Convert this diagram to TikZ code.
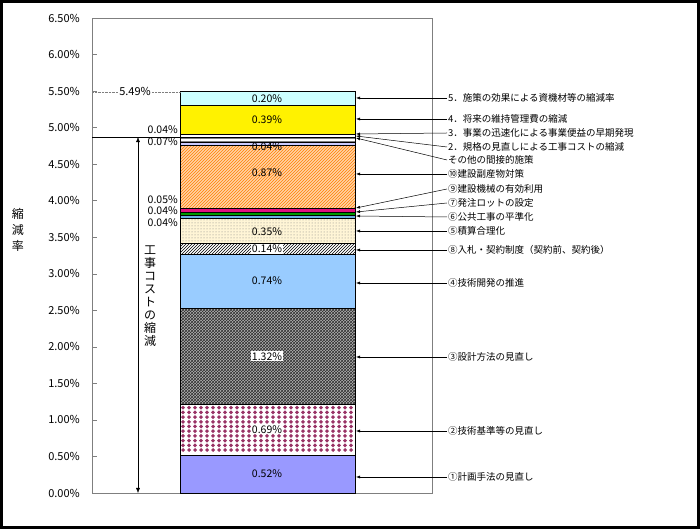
\documentclass[tikz,border=0pt]{standalone}
\usepackage{fontspec}
\setmainfont{Noto Sans CJK JP}
\usetikzlibrary{patterns,arrows.meta}
\definecolor{lav}{HTML}{9999FF}
\definecolor{plum}{HTML}{993366}
\definecolor{lblue}{HTML}{99CCFF}
\definecolor{lyel}{HTML}{FFF5D6}
\definecolor{lcyan}{HTML}{CCFFFF}
\definecolor{axisg}{HTML}{7F7F7F}
\newcommand\V[1]{36+73.08*#1}
\tikzset{seg/.style={draw=black,line width=0.6pt},
 pct/.style={font=\fontsize{10.5}{10.5}\selectfont,inner sep=1pt},
 lab/.style={font=\fontsize{9.5}{9.5}\selectfont,anchor=west,inner sep=1pt},
 ax/.style={font=\fontsize{11}{11}\selectfont,anchor=east,inner sep=1pt},
 arr/.style={-{Latex[length=4pt,width=3pt]},line width=0.5pt}}
\begin{document}
\begin{tikzpicture}[x=1pt,y=1pt]
\useasboundingbox (0,0) rectangle (700,529);
\draw[line width=3pt] (1.5,1.5) rectangle (698.5,527.5);
% plot frame
\draw[axisg,line width=0.8pt] (92,{\V{0}}) rectangle (432,{\V{6.5}});
\foreach \v/\t in {0/0.00,0.5/0.50,1/1.00,1.5/1.50,2/2.00,2.5/2.50,3/3.00,3.5/3.50,4/4.00,4.5/4.50,5/5.00,5.5/5.50,6/6.00,6.5/6.50}{
 \draw[axisg] (92,{\V{\v}}) -- (97,{\V{\v}});
 \node[ax] at (81,{\V{\v}}) {\t\%};}
% segments
\fill[lav] (180,{\V{0}}) rectangle (355,{\V{0.52}});
\draw[seg] (180,{\V{0}}) rectangle (355,{\V{0.52}});
\fill[white] (180,{\V{0.52}}) rectangle (355,{\V{1.21}});
\begin{scope}
\clip (180,{\V{0.52}}) rectangle (355,{\V{1.21}});
\foreach \i in {0,...,28}{\foreach \j in {0,...,10}{
 \fill[plum] ({183+6*\i},{\V{0.52}+3+4.7*\j}) -- ++(2,2) -- ++(-2,2) -- ++(-2,-2) -- cycle;}}
\end{scope}
\draw[seg] (180,{\V{0.52}}) rectangle (355,{\V{1.21}});
\fill[gray!60] (180,{\V{1.21}}) rectangle (355,{\V{2.53}});
\fill[pattern=crosshatch dots,pattern color=black] (180,{\V{1.21}}) rectangle (355,{\V{2.53}});
\fill[pattern=crosshatch,pattern color=black!80] (180,{\V{1.21}}) rectangle (355,{\V{2.53}});
\draw[seg] (180,{\V{1.21}}) rectangle (355,{\V{2.53}});
\fill[lblue] (180,{\V{2.53}}) rectangle (355,{\V{3.27}});
\draw[seg] (180,{\V{2.53}}) rectangle (355,{\V{3.27}});
\fill[white] (180,{\V{3.27}}) rectangle (355,{\V{3.41}});
\fill[pattern=north east lines,pattern color=black] (180,{\V{3.27}}) rectangle (355,{\V{3.41}});
\draw[seg] (180,{\V{3.27}}) rectangle (355,{\V{3.41}});
\fill[lyel] (180,{\V{3.41}}) rectangle (355,{\V{3.76}});
\fill[pattern=dots,pattern color=gray] (180,{\V{3.41}}) rectangle (355,{\V{3.76}});
\draw[seg] (180,{\V{3.41}}) rectangle (355,{\V{3.76}});
\draw[seg,fill=cyan!70!blue!60] (180,{\V{3.76}}) rectangle (355,{\V{3.80}});
\draw[seg,fill=green!60!black] (180,{\V{3.80}}) rectangle (355,{\V{3.84}});
\draw[seg,fill=magenta!80!purple] (180,{\V{3.84}}) rectangle (355,{\V{3.89}});
\fill[orange!35] (180,{\V{3.89}}) rectangle (355,{\V{4.76}});
\fill[pattern=north east lines,pattern color=orange] (180,{\V{3.89}}) rectangle (355,{\V{4.76}});
\draw[seg] (180,{\V{3.89}}) rectangle (355,{\V{4.76}});
\draw[seg,fill=blue!20] (180,{\V{4.76}}) rectangle (355,{\V{4.80}});
\fill[white] (180,{\V{4.80}}) rectangle (355,{\V{4.87}});
\fill[pattern=horizontal lines,pattern color=gray] (180,{\V{4.80}}) rectangle (355,{\V{4.87}});
\draw[seg] (180,{\V{4.80}}) rectangle (355,{\V{4.87}});
\draw[seg,fill=white] (180,{\V{4.87}}) rectangle (355,{\V{4.91}});
\draw[seg,fill=yellow] (180,{\V{4.91}}) rectangle (355,{\V{5.30}});
\draw[seg,fill=lcyan] (180,{\V{5.30}}) rectangle (355,{\V{5.49}});
% inside labels
\node[pct] at (267,{\V{0.26}}) {0.52\%};
\node[pct,fill=white] at (267,{\V{0.87}}) {0.69\%};
\node[pct,fill=white] at (267,{\V{1.87}}) {1.32\%};
\node[pct] at (267,{\V{2.90}}) {0.74\%};
\node[pct,fill=white] at (267,{\V{3.34}}) {0.14\%};
\node[pct] at (267,{\V{3.58}}) {0.35\%};
\node[pct] at (267,{\V{4.38}}) {0.87\%};
\node[pct] at (267,{\V{4.74}}) {0.04\%};
\node[pct] at (267,{\V{5.11}}) {0.39\%};
\node[pct] at (267,{\V{5.40}}) {0.20\%};
% outside small labels
\node[pct,anchor=east] at (179,{\V{4.97}}) {0.04\%};
\node[pct,anchor=east] at (179,{\V{4.81}}) {0.07\%};
\node[pct,anchor=east] at (179,{\V{4.01}}) {0.05\%};
\node[pct,anchor=east] at (179,{\V{3.86}}) {0.04\%};
\node[pct,anchor=east] at (179,{\V{3.70}}) {0.04\%};
% 5.49 dotted
\node[pct,font=\fontsize{11}{11}\selectfont] (p549) at (135,{\V{5.49}}) {5.49\%};
\draw[densely dotted,axisg] (92,{\V{5.49}}) -- (p549.west);
\draw[densely dotted,axisg] (p549.east) -- (180,{\V{5.49}});
% cost arrow
\coordinate (ct) at (138,{\V{4.87}});
\coordinate (cb) at (138,{\V{0}});
\draw (92,{\V{4.87}}) -- (180,{\V{4.87}});
\draw[{Latex[length=5pt,width=4pt]}-{Latex[length=5pt,width=4pt]}] (ct) -- (cb);
\node[font=\fontsize{12}{13}\selectfont,align=center,inner sep=1pt,fill=white] at (150,{\V{2.7}}) {工\\事\\コ\\ス\\ト\\の\\縮\\減};
\node[font=\fontsize{12}{16}\selectfont,align=center] at (18,{\V{3.6}}) {縮\\減\\率};
% right labels
\foreach \ly/\ty/\t in {98/98/5．施策の効果による資機材等の縮減率,119/119/4．将来の維持管理費の縮減,133/134/3．事業の迅速化による事業便益の早期発現,147/136/2．規格の見直しによる工事コストの縮減,160/138/その他の間接的施策,174/174/⑩建設副産物対策,189/208/⑨建設機械の有効利用,203/212/⑦発注ロットの設定,217/216/⑥公共工事の平準化,231/231/⑤積算合理化,250/250/⑧入札・契約制度（契約前、契約後）,283/283/④技術開発の推進,357/357/③設計方法の見直し,431/431/②技術基準等の見直し,477/477/①計画手法の見直し}{
 \node[lab] (L\ly) at (447,{529-\ly}) {\t};
 \coordinate (T\ly) at (356,{529-\ty});
 \draw[arr] (L\ly.west) -- (T\ly);}
\end{tikzpicture}
\end{document}
